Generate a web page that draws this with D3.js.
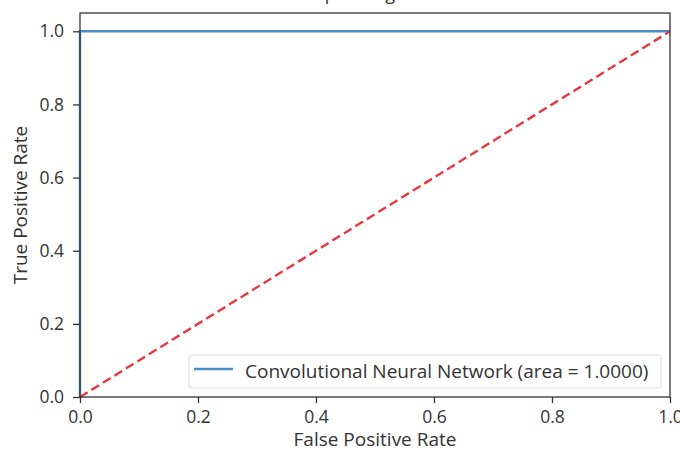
<!DOCTYPE html>
<html>
<head>
<meta charset="utf-8">
<script src="https://cdn.jsdelivr.net/npm/d3@7"></script>
<style>
  body { margin: 0; background: #fff; }
  text { font-family: "Open Sans", sans-serif; fill: #333; }
</style>
</head>
<body>
<div id="chart"></div>
<script>
// ROC curve values
var fpr = [0.0, 0.0, 1.0];
var tpr = [0.0, 1.0, 1.0];
var chanceX = [0.0, 1.0];
var chanceY = [0.0, 1.0];
var ticks = [0.0, 0.2, 0.4, 0.6, 0.8, 1.0];
var seriesName = "Convolutional Neural Network (area = 1.0000)";

var margin = {top: 13, right: 10, bottom: 53, left: 80},
    width = 680 - margin.left - margin.right,
    height = 450 - margin.top - margin.bottom;

var svg = d3.select("#chart")
    .append("svg")
      .attr("width", 680)
      .attr("height", 450)
    .append("g")
      .attr("transform", "translate(" + margin.left + "," + margin.top + ")");

var x = d3.scaleLinear().domain([0, 1]).range([0, width]);
var y = d3.scaleLinear().domain([0, 1.05]).range([height, 0]);

// title, cropped off at the top like the reference
svg.append("text")
    .attr("x", width / 2)
    .attr("y", -13)
    .attr("text-anchor", "middle")
    .style("font-size", "18px")
    .text("Receiver Operating Characteristic");

var line = d3.line()
    .x(function(d) { return x(d[0]); })
    .y(function(d) { return y(d[1]); });

svg.append("path")
    .datum(fpr.map(function(v, i) { return [v, tpr[i]]; }))
    .attr("fill", "none")
    .attr("stroke", "#4a8cc4")
    .attr("stroke-width", 2.4)
    .attr("d", line);

svg.append("path")
    .datum(chanceX.map(function(v, i) { return [v, chanceY[i]]; }))
    .attr("fill", "none")
    .attr("stroke", "#e8383f")
    .attr("stroke-width", 2.4)
    .attr("stroke-dasharray", "9,4.5")
    .attr("d", line);

// frame
svg.append("rect")
    .attr("width", width)
    .attr("height", height)
    .attr("fill", "none")
    .attr("stroke", "#333")
    .attr("stroke-width", 1.3);

var xAxis = svg.append("g")
    .attr("transform", "translate(0," + height + ")")
    .call(d3.axisBottom(x).tickValues(ticks).tickFormat(d3.format(".1f")).tickSize(6).tickPadding(8));
var yAxis = svg.append("g")
    .call(d3.axisLeft(y).tickValues(ticks).tickFormat(d3.format(".1f")).tickSize(7).tickPadding(9));

[xAxis, yAxis].forEach(function(a) {
  a.select(".domain").remove();
  a.selectAll(".tick line").attr("stroke", "#333").attr("stroke-width", 1.3);
  a.selectAll(".tick text")
      .style("font-family", "Open Sans, sans-serif")
      .style("font-size", "17.5px")
      .attr("fill", "#333");
});

svg.append("text")
    .attr("x", width / 2)
    .attr("y", height + 49)
    .attr("text-anchor", "middle")
    .style("font-size", "19px")
    .text("False Positive Rate");

svg.append("text")
    .attr("transform", "rotate(-90)")
    .attr("x", -height / 2)
    .attr("y", -53)
    .attr("text-anchor", "middle")
    .style("font-size", "19px")
    .text("True Positive Rate");

// legend
var legend = svg.append("g")
    .attr("transform", "translate(" + (109) + "," + (height - 42) + ")");

legend.append("rect")
    .attr("width", 472)
    .attr("height", 33)
    .attr("rx", 3)
    .attr("fill", "#fff")
    .attr("fill-opacity", 0.8)
    .attr("stroke", "#ddd");

legend.append("line")
    .attr("x1", 5)
    .attr("x2", 44)
    .attr("y1", 14)
    .attr("y2", 14)
    .attr("stroke", "#4a8cc4")
    .attr("stroke-width", 2.4);

legend.append("text")
    .attr("x", 56)
    .attr("y", 16)
    .attr("dy", "0.35em")
    .style("font-size", "19px")
    .text(seriesName);
</script>
</body>
</html>
